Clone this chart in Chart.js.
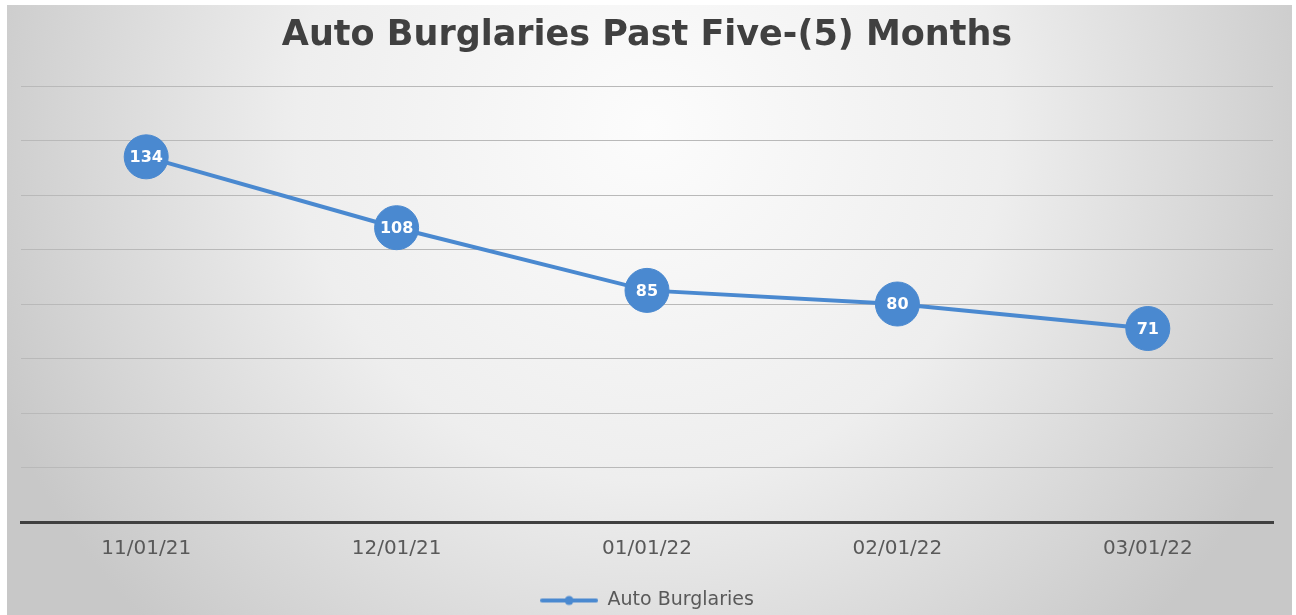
<!DOCTYPE html>
<html>
<head>
<meta charset="utf-8">
<script src="https://cdn.jsdelivr.net/npm/chart.js@4/dist/chart.umd.min.js"></script>
<style>
  html, body { margin: 0; padding: 0; background: #ffffff; }
  #wrap { position: absolute; left: 7px; top: 5px; width: 1285px; height: 610px; }
</style>
</head>
<body>
<div id="wrap"><canvas id="c"></canvas></div>
<script>
const chartTitle = 'Auto Burglaries Past Five-(5) Months';
const seriesName = 'Auto Burglaries';
const categories = ['11/01/21', '12/01/21', '01/01/22', '02/01/22', '03/01/22'];
const burglaries = [134, 108, 85, 80, 71];
const yMin = 0, yMax = 160, yStep = 20;

const BLUE = '#4a89d0';

// legend marker: line with a dot
const legendIcon = document.createElement('canvas');
legendIcon.width = 58; legendIcon.height = 12;
(function(){
  const g = legendIcon.getContext('2d');
  g.strokeStyle = BLUE; g.lineWidth = 4; g.lineCap = 'round';
  g.beginPath(); g.moveTo(2, 6); g.lineTo(56, 6); g.stroke();
  g.fillStyle = BLUE; g.beginPath(); g.arc(29, 6, 4.5, 0, Math.PI * 2); g.fill();
})();

const bgPlugin = {
  id: 'bg',
  beforeDraw(chart) {
    const { ctx, width, height } = chart;
    ctx.save();
    const grad = ctx.createRadialGradient(width * 0.5, height * 0.2, 0, width * 0.5, height * 0.2, width * 0.55);
    grad.addColorStop(0, '#fcfcfc');
    grad.addColorStop(0.5, '#eeeeee');
    grad.addColorStop(1, '#c8c8c8');
    ctx.fillStyle = grad;
    ctx.fillRect(0, 0, width, height);
    ctx.restore();
  }
};

const labelPlugin = {
  id: 'pointLabels',
  afterDatasetsDraw(chart) {
    const { ctx } = chart;
    const meta = chart.getDatasetMeta(0);
    const data = chart.data.datasets[0].data;
    ctx.save();
    ctx.font = 'bold 16px "DejaVu Sans"';
    ctx.fillStyle = '#ffffff';
    ctx.textAlign = 'center';
    ctx.textBaseline = 'middle';
    meta.data.forEach((pt, i) => {
      ctx.fillText(String(data[i]), pt.x, pt.y + 1);
    });
    ctx.restore();
  }
};

new Chart(document.getElementById('c'), {
  type: 'line',
  data: {
    labels: categories,
    datasets: [{
      label: seriesName,
      data: burglaries,
      borderColor: BLUE,
      backgroundColor: BLUE,
      borderWidth: 4,
      tension: 0,
      pointRadius: 22,
      pointHoverRadius: 22,
      pointBackgroundColor: BLUE,
      pointBorderColor: BLUE,
      pointBorderWidth: 1,
      clip: false
    }]
  },
  options: {
    responsive: true,
    maintainAspectRatio: false,
    devicePixelRatio: 1,
    animation: false,
    layout: { autoPadding: false, padding: { left: 14, right: 19, top: 0, bottom: -5 } },
    plugins: {
      title: {
        display: true,
        text: chartTitle,
        color: '#404040',
        font: { family: 'DejaVu Sans', weight: 'bold', size: 35 },
        padding: { top: 10, bottom: 29 }
      },
      legend: {
        display: true,
        position: 'bottom',
        labels: {
          color: '#595959',
          font: { family: 'DejaVu Sans', size: 19 },
          usePointStyle: true,
          pointStyleWidth: 58,
          padding: 3,
          generateLabels(chart) {
            return Chart.defaults.plugins.legend.labels.generateLabels(chart).map(l => {
              l.pointStyle = legendIcon;
              return l;
            });
          }
        }
      },
      tooltip: { enabled: false }
    },
    scales: {
      x: {
        offset: true,
        grid: { display: false, drawTicks: false },
        border: { display: true, color: '#404040', width: 3 },
        ticks: {
          color: '#595959',
          font: { family: 'DejaVu Sans', size: 20 },
          padding: 15,
          maxRotation: 0
        },
        afterFit(axis) { axis.height = 66; axis.paddingLeft = 0; axis.paddingRight = 0; }
      },
      y: {
        min: yMin,
        max: yMax,
        ticks: { display: false, stepSize: yStep },
        grid: { color: '#b9b9b9', lineWidth: 1, drawTicks: false },
        border: { display: false },
        afterFit(axis) { axis.width = 0; }
      }
    }
  },
  plugins: [bgPlugin, labelPlugin]
});
</script>
</body>
</html>
